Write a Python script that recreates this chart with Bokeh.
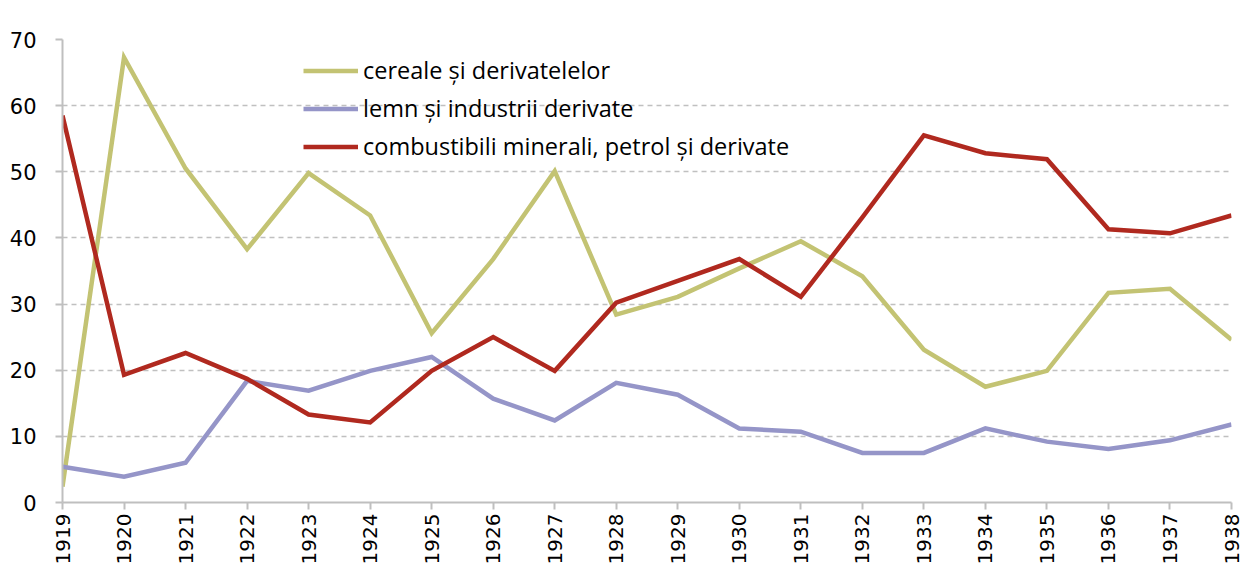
import math
from bokeh.plotting import figure
from bokeh.models import Legend, LegendItem, Label, FixedTicker, Range1d
from bokeh.embed import file_html
from bokeh.resources import INLINE

years = list(range(1919, 1939))
cereale = [2.4, 67.3, 50.5, 38.3, 49.8, 43.4, 25.6, 36.8, 50.1, 28.4,
           31.1, 35.4, 39.5, 34.2, 23.1, 17.5, 19.9, 31.7, 32.3, 24.6]
lemn = [5.4, 3.9, 6.0, 18.4, 16.9, 19.9, 22.0, 15.7, 12.4, 18.1,
        16.3, 11.2, 10.7, 7.5, 7.5, 11.2, 9.2, 8.1, 9.4, 11.8]
combustibili = [58.5, 19.3, 22.6, 18.7, 13.3, 12.1, 19.9, 25.0, 19.9, 30.2,
                33.5, 36.8, 31.1, 43.1, 55.5, 52.8, 51.9, 41.3, 40.7, 43.4]
names = ["cereale și derivatelelor", "lemn și industrii derivate",
         "combustibili minerali, petrol și derivate"]
y_ticks = [0, 10, 20, 30, 40, 50, 60, 70]

colors = ["#c3c373", "#9595c8", "#b0291f"]

p = figure(width=1245, height=567, output_backend="svg", toolbar_location=None,
           x_range=Range1d(1919, 1938), y_range=Range1d(0, 70),
           min_border_left=62, min_border_right=14, min_border_top=39,
           min_border_bottom=64)
p.outline_line_color = None
p.background_fill_color = "white"

renderers = []
for data, c in zip([cereale, lemn, combustibili], colors):
    r = p.line(years, data, line_color=c, line_width=4.5, line_join="miter")
    renderers.append(r)

p.xgrid.grid_line_color = None
p.ygrid.grid_line_color = "#c0c0c0"
p.ygrid.grid_line_dash = "5 4"
p.ygrid.grid_line_width = 1.5

p.xaxis.ticker = FixedTicker(ticks=years)
p.yaxis.ticker = FixedTicker(ticks=y_ticks)
p.xaxis.major_label_orientation = math.pi / 2
for ax in [p.xaxis[0], p.yaxis[0]]:
    ax.axis_line_color = "#bfbfbf"
    ax.axis_line_width = 2
    ax.major_tick_line_color = "#bfbfbf"
    ax.major_tick_line_width = 2
    ax.major_tick_out = 7
    ax.major_tick_in = 0
    ax.minor_tick_line_color = None
    ax.major_label_text_font = "DejaVu Sans"
    ax.major_label_text_color = "black"
p.xaxis.major_label_text_font_size = "20px"
p.yaxis.major_label_text_font_size = "21px"
p.xaxis.major_label_standoff = 4
p.yaxis.major_label_standoff = 19

items = [LegendItem(label=n, renderers=[r]) for n, r in zip(names, renderers)]
legend = Legend(items=items, location=(241, 340), border_line_color=None,
                background_fill_alpha=0, padding=0, margin=0, spacing=6,
                glyph_width=55, glyph_height=31, label_height=31,
                label_standoff=5, label_text_font="Open Sans",
                label_text_font_size="23.5px", label_text_color="black")
p.add_layout(legend)

p.add_layout(Label(x=1919, y=70, x_offset=0, y_offset=3, text="%",
                   text_font="DejaVu Sans", text_font_size="18px",
                   text_color="black"))

open("out.html", "w").write(file_html(p, INLINE))
